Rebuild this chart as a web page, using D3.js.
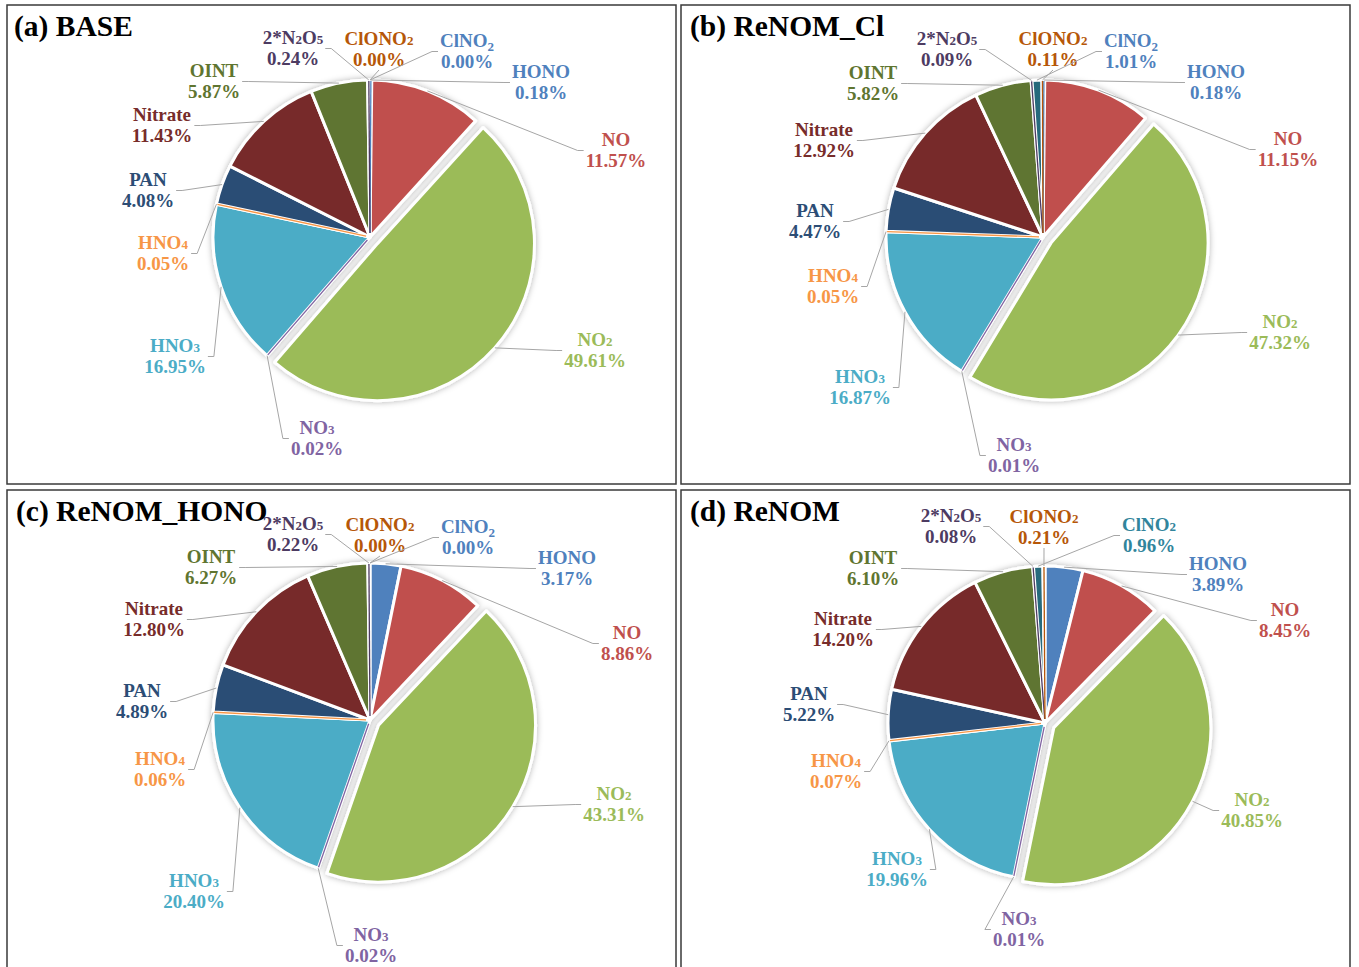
<!DOCTYPE html>
<html>
<head>
<meta charset="utf-8">
<script src="https://cdn.jsdelivr.net/npm/d3@7"></script>
<style>
  body { margin: 0; background: #fff; }
  svg { display: block; }
  text { font-family: "Liberation Serif", "Times New Roman", serif; font-weight: bold; }
</style>
</head>
<body>
<div id="chart"></div>
<script>
// species in pie order (clockwise from 12 o'clock)
const species = ["HONO", "NO", "NO2", "NO3", "HNO3", "HNO4", "PAN", "Nitrate", "OINT", "2*N2O5", "ClNO2", "ClONO2"];
const sliceColors = ["#4F81BD", "#C0504D", "#9BBB59", "#8064A2", "#4BACC6", "#F79646",
                     "#2C4D75", "#772C2A", "#5F7530", "#4D3B62", "#276A7C", "#B65708"];

const panelTitles = ["(a) BASE", "(b) ReNOM_Cl", "(c) ReNOM_HONO", "(d) ReNOM"];
const baseValues      = [0.18, 11.57, 49.61, 0.02, 16.95, 0.05, 4.08, 11.43, 5.87, 0.24, 0.00, 0.00];
const renomClValues   = [0.18, 11.15, 47.32, 0.01, 16.87, 0.05, 4.47, 12.92, 5.82, 0.09, 1.01, 0.11];
const renomHonoValues = [3.17, 8.86, 43.31, 0.02, 20.40, 0.06, 4.89, 12.80, 6.27, 0.22, 0.00, 0.00];
const renomValues     = [3.89, 8.45, 40.85, 0.01, 19.96, 0.07, 5.22, 14.20, 6.10, 0.08, 0.96, 0.21];
const panelValues = [baseValues, renomClValues, renomHonoValues, renomValues];

// ---- layout (not data) ----
const W = 1359, H = 967;
const R = 157;
const explodeBy = 10;
const exploded = new Set(["NO2"]);
const panels = [
  { x: 7,   y: 5,   w: 669, h: 479, cx: 370,  cy: 237, tx: 14 },
  { x: 681, y: 5,   w: 669, h: 479, cx: 1043, cy: 237, tx: 690 },
  { x: 7,   y: 490, w: 669, h: 480, cx: 370,  cy: 720, tx: 16 },
  { x: 681, y: 490, w: 669, h: 480, cx: 1045, cy: 723, tx: 690 }
];
// label offsets from pie centre (centre of first line), same order as species
const labelOffsets = [
  [[171,-165],[246,-97],[225,103],[-53,191],[-195,109],[-207,6],[-222,-57],[-208,-122],[-156,-166],[-77,-199],[97,-196],[9,-198]],
  [[173,-165],[245,-98],[237,85],[-29,208],[-183,140],[-210,39],[-228,-26],[-219,-107],[-170,-164],[-96,-198],[88,-196],[10,-198]],
  [[197,-162],[257,-87],[244,74],[1,215],[-176,161],[-210,39],[-228,-29],[-216,-111],[-159,-163],[-77,-196],[98,-193],[10,-195]],
  [[173,-159],[240,-113],[207,77],[-26,196],[-148,136],[-209,38],[-236,-29],[-202,-104],[-172,-165],[-94,-207],[104,-198],[-1,-206]]
];
const anchorSide = ["l", "l", "l", "l", "r", "r", "r", "r", "r", "r", "l", "b"];
const lineGap = 21;
const labelSize = 19;

const svg = d3.select("#chart").append("svg").attr("width", W).attr("height", H);

const defs = svg.append("defs");
const shadow = defs.append("filter").attr("id", "pieShadow")
  .attr("x", "-20%").attr("y", "-20%").attr("width", "140%").attr("height", "140%");
shadow.append("feDropShadow")
  .attr("dx", 0).attr("dy", 0).attr("stdDeviation", 3)
  .attr("flood-color", "#000").attr("flood-opacity", 0.3);

const pie = d3.pie().sort(null).value(d => d.value);
const arc = d3.arc().innerRadius(0).outerRadius(R);

function offsetFor(d) {
  if (!exploded.has(d.data.name)) return [0, 0];
  const a = (d.startAngle + d.endAngle) / 2;
  return [explodeBy * Math.sin(a), -explodeBy * Math.cos(a)];
}

// write a species name with smaller digits (subscript-like)
function writeName(textSel, name, lowered) {
  const parts = name.match(/(\d+|\D+)/g);
  parts.forEach((p, i) => {
    const prev = i > 0 ? parts[i - 1] : "";
    const isSub = /^\d+$/.test(p) && /[A-Za-z]$/.test(prev);
    const t = textSel.append("tspan").text(p);
    if (isSub) {
      t.attr("font-size", 13);
      if (lowered) t.attr("dy", 4);
    }
  });
}

panels.forEach((p, pi) => {
  const g = svg.append("g");
  g.append("rect")
    .attr("x", p.x).attr("y", p.y).attr("width", p.w).attr("height", p.h)
    .attr("fill", "#fff").attr("stroke", "#3a3a3a").attr("stroke-width", 1.5);

  const data = species.map((name, i) => ({ name, value: panelValues[pi][i], color: sliceColors[i], idx: i }));
  const arcs = pie(data);

  const pieG = g.append("g")
    .attr("transform", `translate(${p.cx},${p.cy})`)
    .attr("filter", "url(#pieShadow)");

  pieG.selectAll("path.slice")
    .data(arcs.filter(d => d.value > 0))
    .join("path")
    .attr("class", "slice")
    .attr("transform", d => `translate(${offsetFor(d)})`)
    .attr("d", arc)
    .attr("fill", d => d.data.color)
    .attr("stroke", "#fff")
    .attr("stroke-width", 3)
    .attr("stroke-linejoin", "round");

  // very thin slices show as a coloured line
  const midA = d => (d.startAngle + d.endAngle) / 2;
  pieG.selectAll("line.thin")
    .data(arcs.filter(d => d.value > 0 && d.value < 0.5))
    .join("line")
    .attr("class", "thin")
    .attr("x1", d => 4 * Math.sin(midA(d)))
    .attr("y1", d => -4 * Math.cos(midA(d)))
    .attr("x2", d => (R - 1) * Math.sin(midA(d)))
    .attr("y2", d => -(R - 1) * Math.cos(midA(d)))
    .attr("stroke", d => d.data.color)
    .attr("stroke-width", 1.3);

  // labels + leader lines
  const labG = g.append("g");
  const leadG = g.append("g");
  arcs.forEach((d, i) => {
    const off = labelOffsets[pi][i];
    const lx = p.cx + off[0], ly = p.cy + off[1];
    let color = d.data.color;
    if (d.data.name === "ClNO2" && pi < 3) color = "#4F81BD";
    if (d.data.name === "ClNO2" && pi === 3) color = "#31859C";

    const t1 = labG.append("text")
      .attr("x", lx).attr("y", ly + 6)
      .attr("text-anchor", "middle")
      .attr("font-size", labelSize)
      .attr("fill", color);
    writeName(t1, d.data.name, d.data.name === "ClNO2" && pi < 3);
    const t2 = labG.append("text")
      .attr("x", lx).attr("y", ly + lineGap + 6)
      .attr("text-anchor", "middle")
      .attr("font-size", labelSize)
      .attr("fill", color)
      .text(d3.format(".2f")(d.value) + "%");

    const halfW = Math.max(t1.node().getComputedTextLength(), t2.node().getComputedTextLength()) / 2;

    const a = midA(d);
    const o = offsetFor(d);
    const ex = p.cx + o[0] + R * Math.sin(a);
    const ey = p.cy + o[1] - R * Math.cos(a);

    let pts;
    const side = anchorSide[i];
    if (side === "b") {
      pts = [[lx, ly + lineGap + 10], [ex, ey]];
    } else {
      const dir = side === "l" ? -1 : 1;
      const ax = lx + dir * (halfW + 2), ay = ly + lineGap / 2;
      pts = [[ax, ay], [ax + dir * 6, ay], [ex, ey]];
    }
    leadG.append("path")
      .attr("d", d3.line()(pts))
      .attr("fill", "none")
      .attr("stroke", "#a6a6a6")
      .attr("stroke-width", 1);
  });

  g.append("text")
    .attr("x", p.tx).attr("y", p.y + 31)
    .attr("font-size", 29.5)
    .attr("fill", "#000")
    .text(panelTitles[pi]);
});
</script>
</body>
</html>
